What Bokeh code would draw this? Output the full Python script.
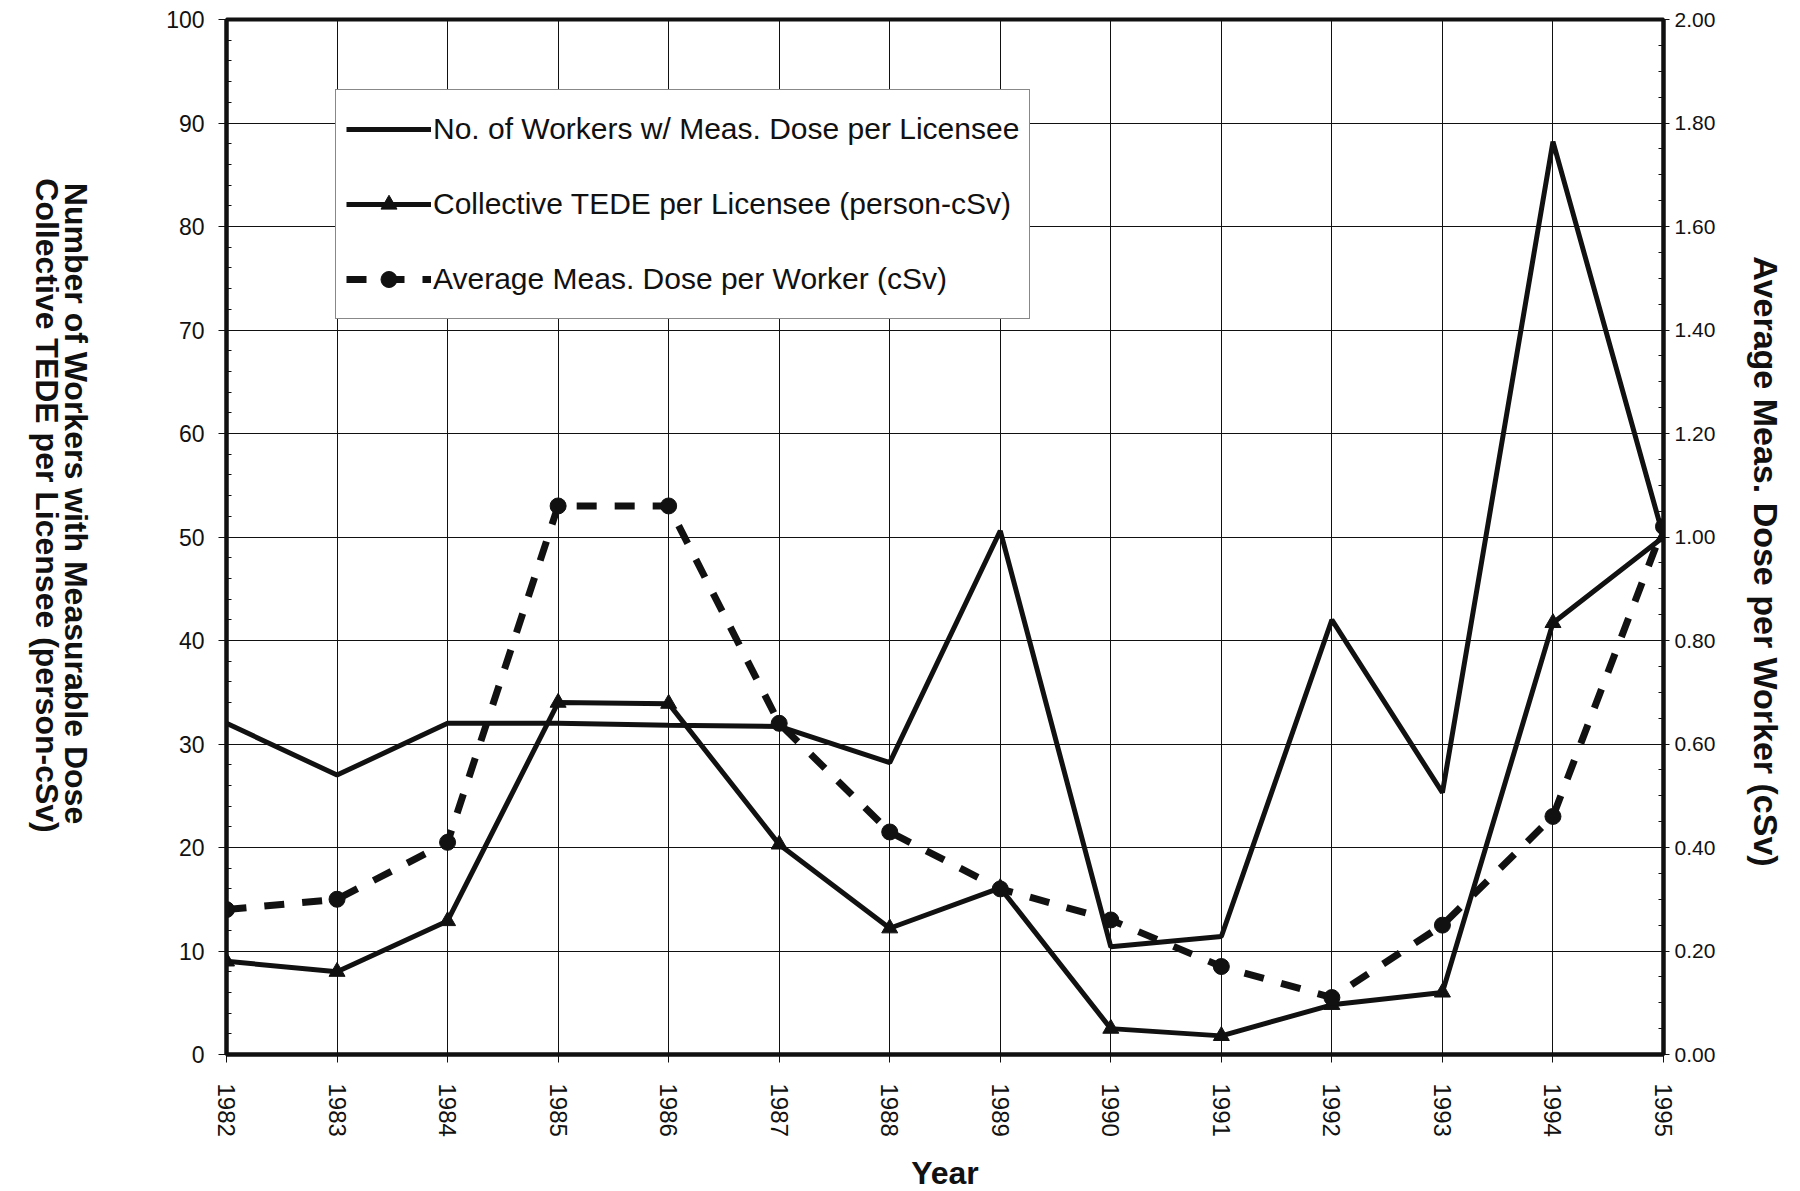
import math
from bokeh.plotting import figure
from bokeh.layouts import row
from bokeh.models import (Range1d, LinearAxis, SingleIntervalTicker, NumeralTickFormatter,
                          Legend, LegendItem, FixedTicker)
from bokeh.core.properties import value
from bokeh.embed import file_html
from bokeh.resources import INLINE

years = [1982, 1983, 1984, 1985, 1986, 1987, 1988, 1989, 1990, 1991, 1992, 1993, 1994, 1995]
workers = [32.0, 27.0, 32.0, 32.0, 31.8, 31.7, 28.2, 50.6, 10.4, 11.4, 42.0, 25.3, 88.2, 50.0]
tede = [9.0, 8.0, 12.9, 34.0, 33.9, 20.3, 12.2, 16.1, 2.5, 1.8, 4.8, 6.0, 41.7, 50.0]
avg_dose = [0.28, 0.30, 0.41, 1.06, 1.06, 0.64, 0.43, 0.32, 0.26, 0.17, 0.11, 0.25, 0.46, 1.02]

label_workers = "No. of Workers w/ Meas. Dose per Licensee"
label_tede = "Collective TEDE per Licensee (person-cSv)"
label_dose = "Average Meas. Dose per Worker (cSv)"
left_titles = ["Number of Workers with Measurable Dose",
               "Collective TEDE per Licensee (person-cSv)"]
x_title = "Year"

FONT = "Liberation Sans"
INK = "#111111"
H = 1190          # total height of every panel
LEFT_W = 120      # width of the left title strip
RIGHT_W = 69      # width of the right title strip

p = figure(frame_width=1437, frame_height=1035, height=H,
           x_range=Range1d(1982, 1995), y_range=Range1d(0, 100),
           output_backend="svg", toolbar_location=None,
           min_border_left=226 - LEFT_W, min_border_right=60, min_border_top=19,
           min_border_bottom=H - 19 - 1035,
           background_fill_color="white", border_fill_color="white")
p.outline_line_color = INK
p.outline_line_width = 4

p.extra_y_ranges = {"dose": Range1d(0, 2)}

# x axis
xa = p.xaxis[0]
xa.ticker = FixedTicker(ticks=years)
xa.major_label_orientation = -math.pi / 2
xa.major_label_text_font = FONT
xa.major_label_text_font_size = "24px"
xa.major_label_text_color = INK
xa.major_label_standoff = 21
xa.major_tick_out = 8
xa.major_tick_in = 0
xa.minor_tick_out = 0
xa.minor_tick_in = 0
xa.axis_line_color = INK
xa.axis_line_width = 4
xa.major_tick_line_color = INK
xa.major_tick_line_width = 1
xa.axis_label = x_title
xa.axis_label_text_font = FONT
xa.axis_label_text_font_style = "bold"
xa.axis_label_text_font_size = "32px"
xa.axis_label_text_color = INK
xa.axis_label_standoff = 15

# left axis
ya = p.yaxis[0]
ya.ticker = SingleIntervalTicker(interval=10, num_minor_ticks=5)
ya.major_label_text_font = FONT
ya.major_label_text_font_size = "23px"
ya.major_label_text_color = INK
ya.major_label_standoff = 14
ya.major_tick_out = 8
ya.major_tick_in = 0
ya.minor_tick_in = 5
ya.minor_tick_out = 0
ya.axis_line_color = INK
ya.axis_line_width = 4
ya.major_tick_line_color = INK
ya.minor_tick_line_color = INK

# right axis
ra = LinearAxis(y_range_name="dose",
                ticker=SingleIntervalTicker(interval=0.2, num_minor_ticks=4),
                formatter=NumeralTickFormatter(format="0.00"))
ra.major_label_text_font = FONT
ra.major_label_text_font_size = "21px"
ra.major_label_text_color = INK
ra.major_label_standoff = 5
ra.major_tick_out = 6
ra.major_tick_in = 0
ra.minor_tick_in = 5
ra.minor_tick_out = 0
ra.axis_line_color = INK
ra.axis_line_width = 4
ra.major_tick_line_color = INK
ra.minor_tick_line_color = INK
p.add_layout(ra, "right")

# grids
p.xgrid.ticker = FixedTicker(ticks=years)
p.xgrid.grid_line_color = INK
p.xgrid.grid_line_width = 1
p.ygrid.grid_line_color = INK
p.ygrid.grid_line_width = 1

# series
r_w = p.line(years, workers, line_color=INK, line_width=5)
r_t = p.line(years, tede, line_color=INK, line_width=5)
r_tm = p.scatter(years, tede, marker="triangle", size=16, fill_color=INK, line_color=INK)
r_d = p.line(years, avg_dose, y_range_name="dose", line_color=INK, line_width=7, line_dash="20 18")
r_dm = p.scatter(years, avg_dose, y_range_name="dose", marker="circle", size=16,
                 fill_color=INK, line_color=INK)

legend = Legend(items=[
    LegendItem(label=label_workers, renderers=[r_w]),
    LegendItem(label=label_tede, renderers=[r_t, r_tm]),
    LegendItem(label=label_dose, renderers=[r_d, r_dm]),
], location=(109, 735))
legend.label_text_font = FONT
legend.label_text_font_size = "30px"
legend.label_text_color = INK
legend.glyph_width = 85
legend.glyph_height = 40
legend.label_height = 58
legend.spacing = 17
legend.padding = 10
legend.label_standoff = 2
legend.margin = 0
legend.border_line_color = INK
legend.border_line_width = 1
legend.background_fill_color = "white"
legend.background_fill_alpha = 1
p.add_layout(legend, "center")


def title_strip(width):
    f = figure(frame_width=width, frame_height=H, title=None,
               x_range=Range1d(0, width), y_range=Range1d(0, H),
               output_backend="svg", toolbar_location=None,
               x_axis_type=None, y_axis_type=None,
               min_border=0, min_border_left=0, min_border_right=0,
               min_border_top=0, min_border_bottom=0,
               background_fill_color="white", border_fill_color="white")
    f.outline_line_color = None
    f.grid.visible = False
    return f


# left titles, reading top-to-bottom
left = title_strip(LEFT_W)
left.text(x=[75, 46], y=[H - 484, H - 486], text=left_titles, angle=-math.pi / 2,
          text_align="center", text_baseline="middle", text_color=INK,
          text_font=value(FONT), text_font_style="bold", text_font_size=value("32px"))

# right title
right = title_strip(RIGHT_W)
right.text(x=[42], y=[H - 542], text=[label_dose], angle=-math.pi / 2,
           text_align="center", text_baseline="middle", text_color=INK,
           text_font=value(FONT), text_font_style="bold", text_font_size=value("34px"))

layout = row(left, p, right, spacing=0)
open("out.html", "w").write(file_html(layout, INLINE))
